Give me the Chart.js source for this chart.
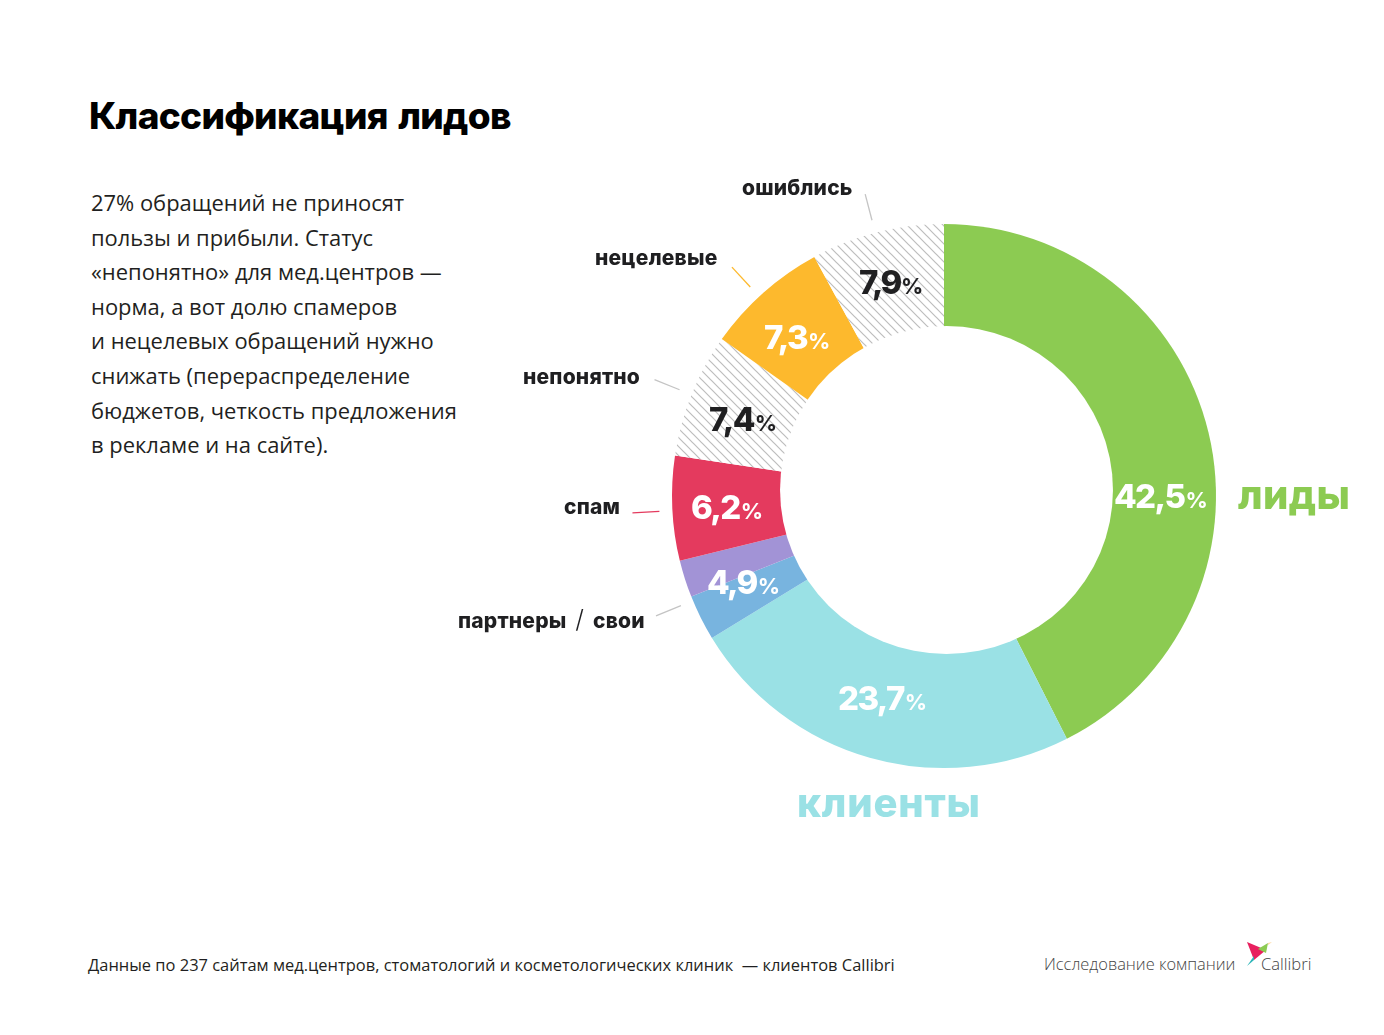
<!DOCTYPE html>
<html lang="ru">
<head>
<meta charset="utf-8">
<title>Классификация лидов</title>
<script src="https://cdn.jsdelivr.net/npm/chart.js@4"></script>
<style>
	html, body { margin: 0; padding: 0; background: #fff; }
	#page { position: relative; width: 1384px; height: 1035px; overflow: hidden; color: #1f1f21; font-family: "Open Sans", sans-serif; }
	#page > * { position: absolute; }
	#chartBox { left: 594px; top: 146px; width: 700px; height: 700px; }
	h1 { left: 89px; top: 92px; margin: 0; font: 800 37px/48px Inter, sans-serif; letter-spacing: -0.7px; word-spacing: 3px; color: #000; white-space: nowrap; }
	#lead { left: 91px; top: 186px; margin: 0; font-size: 21.94px; line-height: 34.6px; white-space: nowrap; }
	.cat { font: 800 21px/28px Inter, sans-serif; letter-spacing: 0.2px; white-space: nowrap; }
	.cat i { font-weight: 300; font-style: normal; font-size: 25px; line-height: 20px; }
	.big { font: 800 40px/48px Inter, sans-serif; letter-spacing: 0.4px; white-space: nowrap; }
	.pct { font: 800 33px/40px Inter, sans-serif; letter-spacing: -1.6px; white-space: nowrap; color: #fff; }
	.pct small { font-size: 22px; font-weight: 700; letter-spacing: 0; margin-left: 1px; }
	.pct.dark { color: #1f1f21; }
	#source { left: 88px; top: 954px; font-size: 16.47px; line-height: 22px; white-space: pre; }
	#brand { left: 1044px; top: 953px; font-size: 16.4px; line-height: 22px; font-weight: 300; color: #444; white-space: nowrap; }
	#brandName { left: 1261px; top: 953px; font-size: 16.6px; line-height: 22px; font-weight: 300; color: #444; }
	#logo { left: 1246px; top: 940px; }
</style>
</head>
<body>
<div id="page">
	<h1>Классификация лидов</h1>
	<p id="lead">27% обращений не приносят<br>пользы и прибыли. Статус<br>«непонятно» для мед.центров —<br>норма, а вот долю спамеров<br>и нецелевых обращений нужно<br>снижать (перераспределение<br>бюджетов, четкость предложения<br>в рекламе и на сайте).</p>

	<div id="chartBox"><canvas id="donut"></canvas></div>

	<div class="cat" style="left:742px;top:174px">ошиблись</div>
	<div class="cat" style="left:595px;top:244px">нецелевые</div>
	<div class="cat" style="left:523px;top:363px">непонятно</div>
	<div class="cat" style="left:564px;top:493px">спам</div>
	<div class="cat" style="left:458px;top:607px;word-spacing:4px">партнеры <i>/</i> свои</div>
	<div class="big" style="left:1238px;top:471px;color:#8ccb52">лиды</div>
	<div class="big" style="left:797px;top:779px;color:#9ae1e5;letter-spacing:0.8px">клиенты</div>

	<div class="pct" style="left:1114px;top:476px">42,5<small>%</small></div>
	<div class="pct" style="left:838px;top:678px">23,7<small>%</small></div>
	<div class="pct" style="left:707px;top:562px">4,9<small>%</small></div>
	<div class="pct" style="left:691px;top:487px">6,2<small>%</small></div>
	<div class="pct dark" style="left:709px;top:399px">7,4<small>%</small></div>
	<div class="pct" style="left:764px;top:317px">7,3<small>%</small></div>
	<div class="pct dark" style="left:859px;top:262px;letter-spacing:-2.4px">7,9<small>%</small></div>

	<div id="source">Данные по 237 сайтам мед.центров, стоматологий и косметологических клиник  — клиентов Callibri</div>
	<div id="brand">Исследование компании</div>
	<svg id="logo" width="26" height="30" viewBox="0 0 26 30">
		<polygon points="1,2 20,10 8,20" fill="#e8205f"/>
		<polygon points="12,9 22,3 20,13" fill="#8ccb52"/>
		<polygon points="22,3 26,2 22,5" fill="#fdd9a0"/>
		<polygon points="8,16 8,20 1,26" fill="#2bb5b8"/>
	</svg>
	<div id="brandName">Callibri</div>
</div>

<script>
	// по часовой стрелке от верха
	const categories = ['лиды', 'клиенты', 'свои', 'партнеры', 'спам', 'непонятно', 'нецелевые', 'ошиблись'];
	const values = [42.5, 23.7, 2.7, 2.2, 6.2, 7.4, 7.3, 7.9];

	const zelen = '#8ccb52';
	const goluboy = '#9ae1e5';
	const siniy = '#78b4df';
	const fiolet = '#a293d6';
	const krasny = '#e43a5e';
	const zhelty = '#fdb92d';
	const seryLine = '#c4c4c4';

	// штриховка для непонятно / ошиблись
	function makeHatch() {
		const size = 9;
		const c = document.createElement('canvas');
		c.width = size;
		c.height = size;
		const ctx = c.getContext('2d');
		ctx.fillStyle = '#fff';
		ctx.fillRect(0, 0, size, size);
		ctx.strokeStyle = '#bdbdbd';
		ctx.lineWidth = 1.2;
		ctx.beginPath();
		ctx.moveTo(-2, -2);
		ctx.lineTo(size + 2, size + 2);
		ctx.moveTo(-2, size - 2);
		ctx.lineTo(2, size + 2);
		ctx.moveTo(size - 2, -2);
		ctx.lineTo(size + 2, 2);
		ctx.stroke();
		return c;
	}
	const hatch = document.createElement('canvas').getContext('2d').createPattern(makeHatch(), 'repeat');

	// выноски: [первый сегмент, последний сегмент, цвет, сдвиг угла в градусах]
	const leaders = [
		[2, 3, seryLine, 0],
		[4, 4, krasny, -0.5],
		[5, 5, seryLine, 0],
		[6, 6, zhelty, -1.2],
		[7, 7, seryLine, -0.4]
	];

	// дырка в оригинале чуть смещена от центра круга, поэтому пирог + белый овал
	const holePlugin = {
		id: 'hole',
		afterDatasetsDraw(chart) {
			const arc = chart.getDatasetMeta(0).data[0];
			const ctx = chart.ctx;
			ctx.save();
			ctx.fillStyle = '#fff';
			ctx.beginPath();
			ctx.ellipse(arc.x + 2.5, arc.y - 6, arc.outerRadius * 0.612, arc.outerRadius * 0.603, 0, 0, Math.PI * 2);
			ctx.fill();
			ctx.restore();
		}
	};

	const leaderPlugin = {
		id: 'leaders',
		afterDatasetsDraw(chart) {
			const arcs = chart.getDatasetMeta(0).data;
			const ctx = chart.ctx;
			ctx.save();
			ctx.lineWidth = 1.3;
			leaders.forEach(([from, to, color, shift]) => {
				const angle = (arcs[from].startAngle + arcs[to].endAngle) / 2 + shift * Math.PI / 180;
				const r = arcs[from].outerRadius;
				ctx.strokeStyle = color;
				ctx.beginPath();
				ctx.moveTo(arcs[from].x + Math.cos(angle) * (r + 13), arcs[from].y + Math.sin(angle) * (r + 13));
				ctx.lineTo(arcs[from].x + Math.cos(angle) * (r + 40), arcs[from].y + Math.sin(angle) * (r + 40));
				ctx.stroke();
			});
			ctx.restore();
		}
	};

	new Chart(document.getElementById('donut'), {
		type: 'doughnut',
		data: {
			labels: categories,
			datasets: [{
				data: values,
				backgroundColor: [zelen, goluboy, siniy, fiolet, krasny, hatch, zhelty, hatch],
				borderWidth: 0
			}]
		},
		options: {
			responsive: true,
			maintainAspectRatio: false,
			animation: false,
			cutout: 0,
			layout: { padding: 78 },
			plugins: { legend: { display: false }, tooltip: { enabled: false } }
		},
		plugins: [holePlugin, leaderPlugin]
	});
</script>
</body>
</html>
